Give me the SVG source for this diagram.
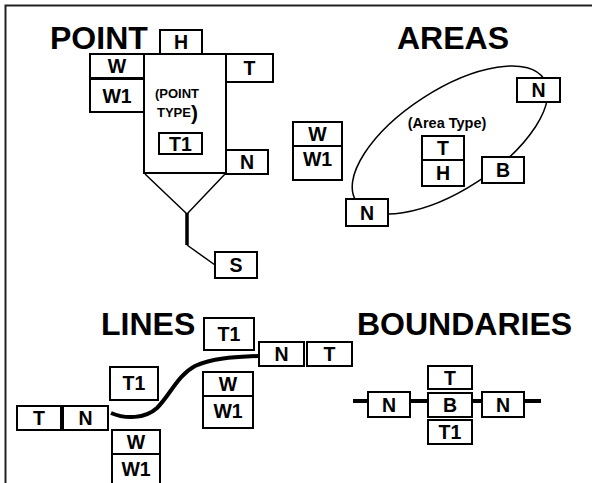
<svg xmlns="http://www.w3.org/2000/svg" width="592" height="483" viewBox="0 0 592 483">
<style>
.b{fill:#fff;stroke:#000;stroke-width:2}
.t{font-family:"Liberation Sans",Arial,sans-serif;font-weight:bold;font-size:19.5px;text-anchor:middle;fill:#000}
.h{font-family:"Liberation Sans",Arial,sans-serif;font-weight:bold;font-size:32px;fill:#000}
.s{font-family:"Liberation Sans",Arial,sans-serif;font-weight:bold;fill:#000}
.c{fill:none;stroke:#000}
</style>
<rect width="592" height="483" fill="#fff"/>
<path d="M5.5,483 V5.5 H592" fill="none" stroke="#222" stroke-width="2"/>
<text class="h" x="50" y="49">POINT</text>
<text class="h" x="397" y="49">AREAS</text>
<text class="h" x="101" y="335">LINES</text>
<text class="h" x="357" y="335">BOUNDARIES</text>

<g id="connectors">
<path class="c" stroke-width="1.5" d="M145,174 L187,214 L225,174"/>
<path class="c" stroke-width="3.5" d="M187,213 V245"/>
<path class="c" stroke-width="1.5" d="M187,245 L215,265"/>
<ellipse class="c" stroke-width="1.5" cx="450" cy="140" rx="112" ry="50" transform="rotate(-33 450 140)"/>
<path class="c" stroke-width="4" d="M111,413 C125,419 145,419 157,408 C170,395 178,375 195,366 C215,357 240,357 258,356"/>
<path class="c" stroke-width="4" d="M353,401 H541"/>
</g>

<g id="point-type">
<rect class="b" x="144" y="54" width="82" height="119"/>
<text class="s" x="155" y="98" font-size="13">(POINT</text>
<text class="s" x="157" y="117" font-size="13">TYPE<tspan font-size="21" dy="3">)</tspan></text>
</g>
<g id="point-h"><rect class="b" x="160" y="30" width="42" height="24"/><text class="t" x="181" y="49">H</text></g>
<g id="point-w"><rect class="b" x="90" y="54" width="54" height="24"/><text class="t" x="117" y="73">W</text></g>
<g id="point-w1"><rect class="b" x="90" y="79" width="54" height="33"/><text class="t" x="117" y="103">W1</text></g>
<g id="point-t"><rect class="b" x="226" y="54" width="47" height="28"/><text class="t" x="249.5" y="75">T</text></g>
<g id="point-t1"><rect class="b" x="159" y="133" width="43" height="21"/><text class="t" x="180.5" y="151">T1</text></g>
<g id="point-n"><rect class="b" x="226" y="150" width="42" height="24"/><text class="t" x="247" y="169">N</text></g>
<g id="point-s"><rect class="b" x="215" y="252" width="42" height="26"/><text class="t" x="236" y="272">S</text></g>

<g id="area-w"><rect class="b" x="293" y="122" width="49" height="24"/><text class="t" x="317.5" y="141">W</text></g>
<g id="area-w1"><rect class="b" x="293" y="146" width="49" height="34"/><text class="t" x="317.5" y="166">W1</text></g>
<g id="area-type"><text class="s" x="447" y="128" font-size="14.5" text-anchor="middle">(Area Type)</text></g>
<g id="area-t"><rect class="b" x="422" y="136" width="42" height="24"/><text class="t" x="443" y="155">T</text></g>
<g id="area-h"><rect class="b" x="422" y="160" width="42" height="26"/><text class="t" x="443" y="180">H</text></g>
<g id="area-n1"><rect class="b" x="517" y="78" width="43" height="24"/><text class="t" x="538.5" y="97">N</text></g>
<g id="area-b"><rect class="b" x="482" y="157" width="42" height="26"/><text class="t" x="503" y="177">B</text></g>
<g id="area-n2"><rect class="b" x="346" y="199" width="42" height="27"/><text class="t" x="367" y="220">N</text></g>

<g id="line-t1a"><rect class="b" x="204" y="318" width="50" height="32"/><text class="t" x="229" y="341">T1</text></g>
<g id="line-n1"><rect class="b" x="259" y="342" width="45" height="24"/><text class="t" x="281.5" y="361">N</text></g>
<g id="line-t1"><rect class="b" x="307" y="342" width="45" height="24"/><text class="t" x="329.5" y="361">T</text></g>
<g id="line-t1b"><rect class="b" x="110" y="367" width="48" height="33"/><text class="t" x="134" y="390">T1</text></g>
<g id="line-w1"><rect class="b" x="203" y="372" width="50" height="24"/><text class="t" x="228" y="391">W</text></g>
<g id="line-w1b"><rect class="b" x="203" y="396" width="50" height="32"/><text class="t" x="228" y="418">W1</text></g>
<g id="line-t2"><rect class="b" x="17" y="406" width="44" height="24"/><text class="t" x="39" y="425">T</text></g>
<g id="line-n2"><rect class="b" x="63" y="406" width="45" height="24"/><text class="t" x="85.5" y="425">N</text></g>
<g id="line-w2"><rect class="b" x="112" y="430" width="48" height="24"/><text class="t" x="136" y="449">W</text></g>
<g id="line-w2b"><rect class="b" x="112" y="454" width="48" height="32"/><text class="t" x="136" y="476">W1</text></g>

<g id="bnd-n1"><rect class="b" x="368" y="392" width="42" height="25"/><text class="t" x="389" y="412">N</text></g>
<g id="bnd-t"><rect class="b" x="428" y="366" width="44" height="23"/><text class="t" x="450" y="384.5">T</text></g>
<g id="bnd-b"><rect class="b" x="428" y="393" width="44" height="24"/><text class="t" x="450" y="412">B</text></g>
<g id="bnd-t1"><rect class="b" x="428" y="420" width="44" height="24"/><text class="t" x="450" y="439">T1</text></g>
<g id="bnd-n2"><rect class="b" x="482" y="392" width="42" height="25"/><text class="t" x="503" y="412">N</text></g>
</svg>
